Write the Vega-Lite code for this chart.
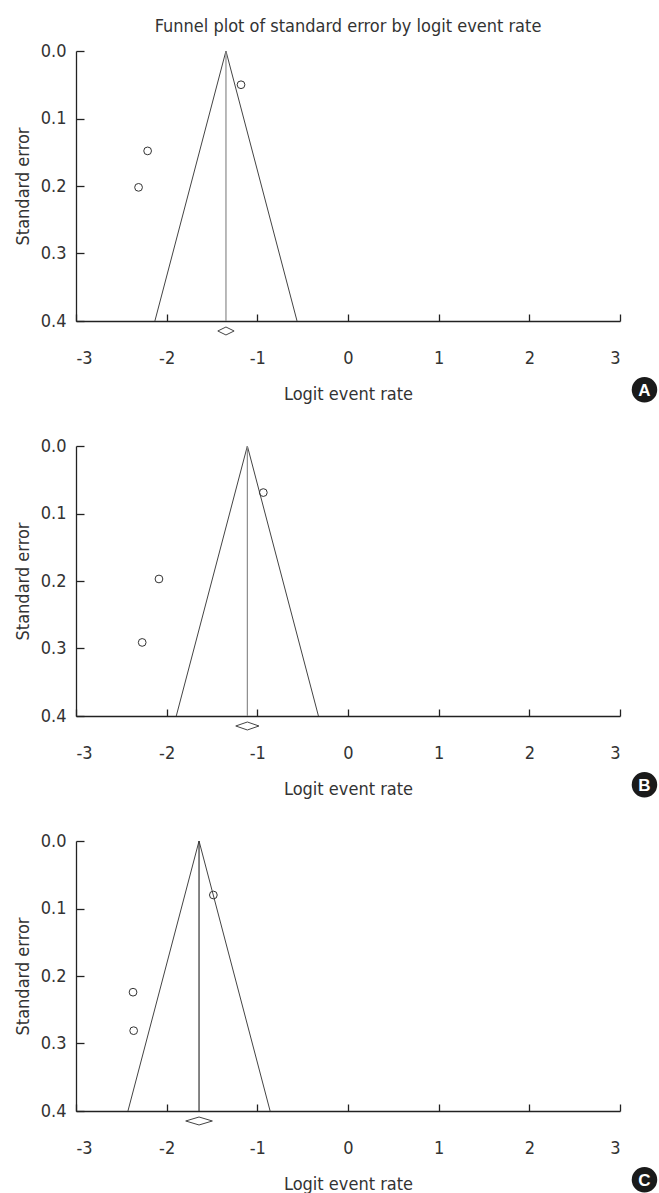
{
  "$schema": "https://vega.github.io/schema/vega-lite/v6.json",
  "background": "white",
  "padding": {"left": 14, "top": 18, "right": 2, "bottom": 0},
  "spacing": 34,
  "config": {
    "font": "DejaVu Sans Condensed, sans-serif",
    "view": {"stroke": null},
    "axis": {
      "grid": false,
      "domainColor": "#222",
      "domainWidth": 1.3,
      "tickColor": "#222",
      "tickWidth": 1.3,
      "labelColor": "#333",
      "titleColor": "#333",
      "labelFontSize": 18,
      "titleFontSize": 18,
      "titleFontWeight": "normal"
    }
  },
  "vconcat": [
    {
      "width": 544,
      "height": 270,
      "title": {"text": "Funnel plot of standard error by logit event rate", "frame": "group", "anchor": "middle", "fontSize": 18, "fontWeight": "normal", "color": "#333", "offset": 6},
      "encoding": {
        "x": {"field": "logit", "type": "quantitative", "scale": {"domain": [-3, 3], "nice": false}, "axis": {"title": "Logit event rate", "values": [-3, -2, -1, 0, 1, 2, 3], "labelExpr": "'' + datum.value", "tickSize": -7, "labelPadding": 35, "titlePadding": 18}},
        "y": {"field": "se", "type": "quantitative", "scale": {"domain": [0, 0.4], "reverse": true, "nice": false, "zero": false}, "axis": {"title": "Standard error", "values": [0, 0.1, 0.2, 0.3, 0.4], "format": ".1f", "tickSize": -8, "labelPadding": 18, "titlePadding": 8}}
      },
      "layer": [
        {"data": {"values": [{"logit": -2.13, "se": 0.4, "o": 1}, {"logit": -1.346, "se": 0, "o": 2}, {"logit": -0.562, "se": 0.4, "o": 3}]},
         "mark": {"type": "line", "color": "#444", "strokeWidth": 1},
         "encoding": {"order": {"field": "o", "type": "quantitative"}}},
        {"data": {"values": [{"logit": -1.346, "se": 0, "se2": 0.4}]},
         "mark": {"type": "rule", "color": "#8c8c8c", "strokeWidth": 1.2},
         "encoding": {"y2": {"field": "se2"}}},
        {"data": {"values": [{"logit": -1.436, "se": 0.4148, "o": 1}, {"logit": -1.346, "se": 0.4089, "o": 2}, {"logit": -1.256, "se": 0.4148, "o": 3}, {"logit": -1.346, "se": 0.4207, "o": 4}, {"logit": -1.436, "se": 0.4148, "o": 5}]},
         "mark": {"type": "line", "color": "#444", "strokeWidth": 1},
         "encoding": {"order": {"field": "o", "type": "quantitative"}}},
        {"data": {"values": [{"logit": -1.18, "se": 0.05}, {"logit": -2.21, "se": 0.148}, {"logit": -2.31, "se": 0.202}]},
         "mark": {"type": "point", "shape": "circle", "filled": false, "color": "#333", "size": 60, "strokeWidth": 1, "opacity": 1}},
        {"data": {"values": [{"logit": 3.27, "se": 0.502, "label": "A"}]},
         "mark": {"type": "point", "shape": "circle", "filled": true, "color": "#1a1a1a", "size": 650, "opacity": 1}},
        {"data": {"values": [{"logit": 3.27, "se": 0.502, "label": "A"}]},
         "mark": {"type": "text", "color": "white", "fontSize": 17, "fontWeight": "bold", "font": "Liberation Sans, Arial, sans-serif", "baseline": "middle", "align": "center", "dy": 1},
         "encoding": {"text": {"field": "label"}}}
      ]
    },
    {
      "width": 544,
      "height": 270,
      "encoding": {
        "x": {"field": "logit", "type": "quantitative", "scale": {"domain": [-3, 3], "nice": false}, "axis": {"title": "Logit event rate", "values": [-3, -2, -1, 0, 1, 2, 3], "labelExpr": "'' + datum.value", "tickSize": -7, "labelPadding": 35, "titlePadding": 18}},
        "y": {"field": "se", "type": "quantitative", "scale": {"domain": [0, 0.4], "reverse": true, "nice": false, "zero": false}, "axis": {"title": "Standard error", "values": [0, 0.1, 0.2, 0.3, 0.4], "format": ".1f", "tickSize": -8, "labelPadding": 18, "titlePadding": 8}}
      },
      "layer": [
        {"data": {"values": [{"logit": -1.894, "se": 0.4, "o": 1}, {"logit": -1.11, "se": 0, "o": 2}, {"logit": -0.326, "se": 0.4, "o": 3}]},
         "mark": {"type": "line", "color": "#444", "strokeWidth": 1},
         "encoding": {"order": {"field": "o", "type": "quantitative"}}},
        {"data": {"values": [{"logit": -1.11, "se": 0, "se2": 0.4}]},
         "mark": {"type": "rule", "color": "#8c8c8c", "strokeWidth": 1.2},
         "encoding": {"y2": {"field": "se2"}}},
        {"data": {"values": [{"logit": -1.238, "se": 0.4148, "o": 1}, {"logit": -1.11, "se": 0.4089, "o": 2}, {"logit": -0.982, "se": 0.4148, "o": 3}, {"logit": -1.11, "se": 0.4207, "o": 4}, {"logit": -1.238, "se": 0.4148, "o": 5}]},
         "mark": {"type": "line", "color": "#444", "strokeWidth": 1},
         "encoding": {"order": {"field": "o", "type": "quantitative"}}},
        {"data": {"values": [{"logit": -0.934, "se": 0.069}, {"logit": -2.085, "se": 0.197}, {"logit": -2.27, "se": 0.291}]},
         "mark": {"type": "point", "shape": "circle", "filled": false, "color": "#333", "size": 60, "strokeWidth": 1, "opacity": 1}},
        {"data": {"values": [{"logit": 3.27, "se": 0.502, "label": "B"}]},
         "mark": {"type": "point", "shape": "circle", "filled": true, "color": "#1a1a1a", "size": 650, "opacity": 1}},
        {"data": {"values": [{"logit": 3.27, "se": 0.502, "label": "B"}]},
         "mark": {"type": "text", "color": "white", "fontSize": 17, "fontWeight": "bold", "font": "Liberation Sans, Arial, sans-serif", "baseline": "middle", "align": "center", "dy": 1},
         "encoding": {"text": {"field": "label"}}}
      ]
    },
    {
      "width": 544,
      "height": 270,
      "encoding": {
        "x": {"field": "logit", "type": "quantitative", "scale": {"domain": [-3, 3], "nice": false}, "axis": {"title": "Logit event rate", "values": [-3, -2, -1, 0, 1, 2, 3], "labelExpr": "'' + datum.value", "tickSize": -7, "labelPadding": 35, "titlePadding": 18}},
        "y": {"field": "se", "type": "quantitative", "scale": {"domain": [0, 0.4], "reverse": true, "nice": false, "zero": false}, "axis": {"title": "Standard error", "values": [0, 0.1, 0.2, 0.3, 0.4], "format": ".1f", "tickSize": -8, "labelPadding": 18, "titlePadding": 8}}
      },
      "layer": [
        {"data": {"values": [{"logit": -2.427, "se": 0.4, "o": 1}, {"logit": -1.643, "se": 0, "o": 2}, {"logit": -0.859, "se": 0.4, "o": 3}]},
         "mark": {"type": "line", "color": "#444", "strokeWidth": 1},
         "encoding": {"order": {"field": "o", "type": "quantitative"}}},
        {"data": {"values": [{"logit": -1.643, "se": 0, "se2": 0.4}]},
         "mark": {"type": "rule", "color": "#333", "strokeWidth": 1.2},
         "encoding": {"y2": {"field": "se2"}}},
        {"data": {"values": [{"logit": -1.79, "se": 0.4148, "o": 1}, {"logit": -1.643, "se": 0.4089, "o": 2}, {"logit": -1.496, "se": 0.4148, "o": 3}, {"logit": -1.643, "se": 0.4207, "o": 4}, {"logit": -1.79, "se": 0.4148, "o": 5}]},
         "mark": {"type": "line", "color": "#444", "strokeWidth": 1},
         "encoding": {"order": {"field": "o", "type": "quantitative"}}},
        {"data": {"values": [{"logit": -1.485, "se": 0.08}, {"logit": -2.371, "se": 0.224}, {"logit": -2.364, "se": 0.281}]},
         "mark": {"type": "point", "shape": "circle", "filled": false, "color": "#333", "size": 60, "strokeWidth": 1, "opacity": 1}},
        {"data": {"values": [{"logit": 3.27, "se": 0.502, "label": "C"}]},
         "mark": {"type": "point", "shape": "circle", "filled": true, "color": "#1a1a1a", "size": 650, "opacity": 1}},
        {"data": {"values": [{"logit": 3.27, "se": 0.502, "label": "C"}]},
         "mark": {"type": "text", "color": "white", "fontSize": 17, "fontWeight": "bold", "font": "Liberation Sans, Arial, sans-serif", "baseline": "middle", "align": "center", "dy": 1},
         "encoding": {"text": {"field": "label"}}}
      ]
    }
  ]
}
